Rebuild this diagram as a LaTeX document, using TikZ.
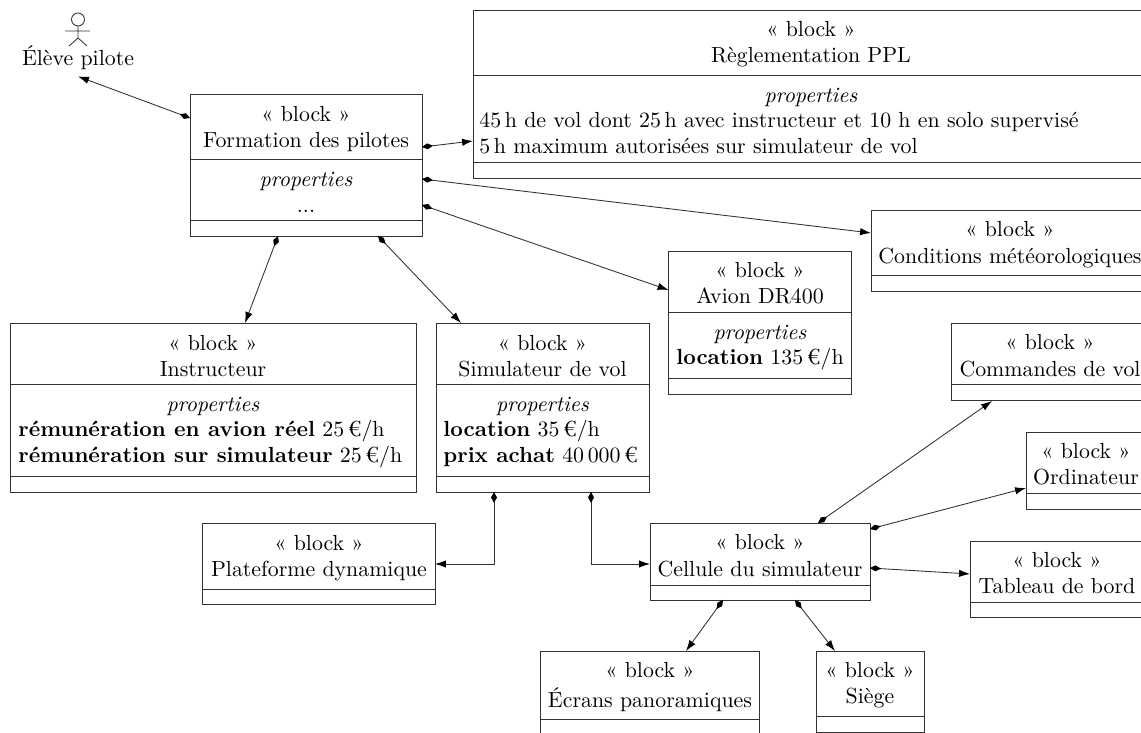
\documentclass[tikz,border=0pt]{standalone}
\usetikzlibrary{arrows.meta}
\tikzset{
  bx/.style 2 args={draw=black!80,minimum width=#1*0.4576pt,minimum height=#2*0.4576pt,inner sep=0pt,outer sep=0pt},
  dv/.style={draw=black!80},
  lbl/.style={anchor=base,inner sep=0pt},
  prop/.style={anchor=base west,inner sep=0pt},
  conn/.style={draw=black!80,{Diamond[length=5pt,width=2.7pt,black]}-{Latex[length=5pt,width=3.4pt,black]}},
}
\newcommand{\blk}{« block »}
\begin{document}
\begin{tikzpicture}[x=0.4576pt,y=-0.4576pt]
\useasboundingbox (0,0) rectangle (1141,733);
\clip (0,0) rectangle (1141,733);
% actor
\draw[dv] (78,19.5) circle[radius=6.5];
\draw[dv] (78,26) -- (78,38) (65,31) -- (90,31) (69,46) -- (78,38) -- (87,46);
\node[inner sep=0pt,minimum height=36*0.4576pt] (eleve) at (78,58) {Élève pilote};
% Formation
\node[bx={232}{142}] (formation) at (306,165) {};
\draw[dv] (190,159) -- (422,159) (190,220) -- (422,220);
\node[lbl] (f1) at (306,122) {\blk};
\node[lbl] (f2) at (306,148) {Formation des pilotes};
\node[lbl] (f3) at (306,187) {\textit{properties}};
\node[lbl] (f4) at (306,213) {...};
% Reglementation
\node[bx={677}{168}] (regl) at (811.5,94) {};
\draw[dv] (473,75) -- (1150,75) (473,162) -- (1150,162);
\node[lbl] (r1) at (811,37) {\blk};
\node[lbl] (r2) at (811,63) {Règlementation PPL};
\node[lbl] (r3) at (811,103) {\textit{properties}};
\node[prop] (r4) at (479,128) {45\,h de vol dont 25\,h avec instructeur et 10 h en solo supervisé};
\node[prop] (r5) at (479,154) {5\,h maximum autorisées sur simulateur de vol};
% Conditions
\node[bx={279}{81}] (cond) at (1010.5,250.5) {};
\draw[dv] (871,275) -- (1150,275);
\node[lbl] (c1) at (1010,237) {\blk};
\node[lbl] (c2) at (1010,264) {Conditions météorologiques};
% Avion
\node[bx={183}{143}] (avion) at (760,322.5) {};
\draw[dv] (668.5,312) -- (851.5,312) (668.5,378) -- (851.5,378);
\node[lbl] (a1) at (760,278) {\blk};
\node[lbl] (a2) at (760,304) {Avion DR400};
\node[lbl] (a3) at (760,340) {\textit{properties}};
\node[lbl] (a4) at (760,365) {\textbf{location} 135\,€/h};
% Commandes
\node[bx={199}{77}] (cmd) at (1050.5,361.5) {};
\draw[dv] (951,384) -- (1150,384);
\node[lbl] (k1) at (1050,350) {\blk};
\node[lbl] (k2) at (1050,377) {Commandes de vol};
% Ordinateur
\node[bx={122}{77}] (ordi) at (1087,470.5) {};
\draw[dv] (1026,493) -- (1148,493);
\node[lbl] (o1) at (1086,459) {\blk};
\node[lbl] (o2) at (1086,485) {Ordinateur};
% Tableau
\node[bx={180}{76}] (tab) at (1060,579) {};
\draw[dv] (970,602) -- (1150,602);
\node[lbl] (t1) at (1057,568) {\blk};
\node[lbl] (t2) at (1057,594) {Tableau de bord};
% Instructeur
\node[bx={406}{169}] (instr) at (213,407.5) {};
\draw[dv] (10,384) -- (416,384) (10,476) -- (416,476);
\node[lbl] (i1) at (213,351) {\blk};
\node[lbl] (i2) at (213,377) {Instructeur};
\node[lbl] (i3) at (213,412) {\textit{properties}};
\node[prop] (i4) at (18,437) {\textbf{rémunération en avion réel} 25\,€/h};
\node[prop] (i5) at (18,463) {\textbf{rémunération sur simulateur} 25\,€/h};
% Simulateur
\node[bx={213}{169}] (simu) at (542.5,407.5) {};
\draw[dv] (436,384) -- (649,384) (436,476) -- (649,476);
\node[lbl] (s1) at (542.5,351) {\blk};
\node[lbl] (s2) at (542.5,377) {Simulateur de vol};
\node[lbl] (s3) at (542.5,412) {\textit{properties}};
\node[prop] (s4) at (443,437) {\textbf{location} 35\,€/h};
\node[prop] (s5) at (443,463) {\textbf{prix achat} 40\,000\,€};
% Plateforme
\node[bx={233}{81}] (plat) at (318.5,563.5) {};
\draw[dv] (202,589) -- (435,589);
\node[lbl] (p1) at (319,551) {\blk};
\node[lbl] (p2) at (319,577) {Plateforme dynamique};
% Cellule
\node[bx={220}{77}] (cell) at (760,561.5) {};
\draw[dv] (650,585) -- (870,585);
\node[lbl] (l1) at (760,550) {\blk};
\node[lbl] (l2) at (760,577) {Cellule du simulateur};
% Ecrans
\node[bx={219}{89}] (ecr) at (649.5,695.5) {};
\draw[dv] (540,719) -- (759,719);
\node[lbl] (e1) at (650,678) {\blk};
\node[lbl] (e2) at (650,708) {Écrans panoramiques};
% Siege
\node[bx={108}{81}] (siege) at (870,691.5) {};
\draw[dv] (816,716) -- (924,716);
\node[lbl] (g1) at (870,678) {\blk};
\node[lbl] (g2) at (870,704) {Siège};
% connectors
\draw[conn] ([shift={(0,24)}]formation.north west) -- (eleve.south);
\draw[conn] ([shift={(0,53)}]formation.north east) -- ([shift={(0,131)}]regl.north west);
\draw[conn] ([shift={(0,85)}]formation.north east) -- ([shift={(0,23)}]cond.north west);
\draw[conn] ([shift={(0,111)}]formation.north east) -- ([shift={(0,39)}]avion.north west);
\draw[conn] ([shift={(88,0)}]formation.south west) -- ([shift={(235,0)}]instr.north west);
\draw[conn] ([shift={(188,0)}]formation.south west) -- ([shift={(25,0)}]simu.north west);
\draw[conn] ([shift={(58,0)}]simu.south west) |- ([shift={(0,41)}]plat.north east);
\draw[conn] ([shift={(155,0)}]simu.south west) |- ([shift={(0,41)}]cell.north west);
\draw[conn] ([shift={(168,0)}]cell.north west) -- ([shift={(41,1)}]cmd.south west);
\draw[conn] ([shift={(0,6)}]cell.north east) -- ([shift={(0,56)}]ordi.north west);
\draw[conn] ([shift={(0,45)}]cell.north east) -- ([shift={(0,33)}]tab.north west);
\draw[conn] ([shift={(73,0)}]cell.south west) -- ([shift={(146,0)}]ecr.north west);
\draw[conn] ([shift={(145,0)}]cell.south west) -- ([shift={(19,0)}]siege.north west);
\end{tikzpicture}
\end{document}
